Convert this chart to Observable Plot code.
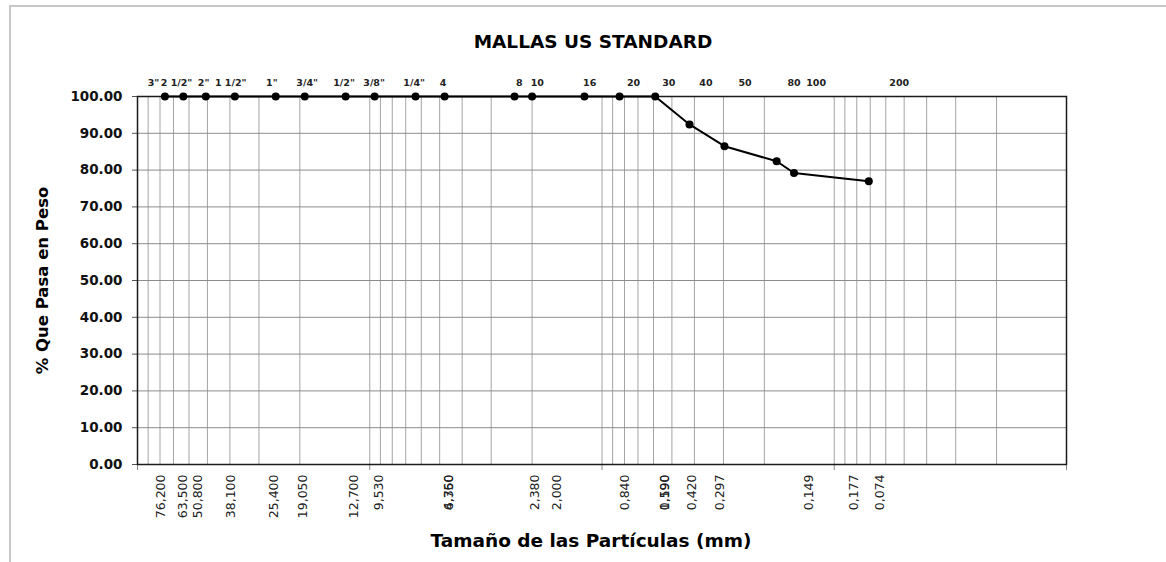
<!DOCTYPE html>
<html>
<head>
<meta charset="utf-8">
<script src="https://cdn.jsdelivr.net/npm/d3@7"></script>
<script src="https://cdn.jsdelivr.net/npm/@observablehq/plot@0.6"></script>
<style>
  html, body { margin: 0; padding: 0; background: #fff; }
  #wrap { position: relative; width: 1166px; height: 562px; overflow: hidden; }
  #border { position: absolute; left: 9px; top: 5px; right: -4px; bottom: -4px;
            border-top: 2px solid #c8c8c8; border-left: 2px solid #c8c8c8; pointer-events: none; }
  #chart { position: absolute; left: 0; top: 0; }
</style>
</head>
<body>
<div id="wrap"><div id="chart"></div><div id="border"></div></div>
<script>
// ---- data ----
const sieveNames = ['3"', '2 1/2"', '2"', '1 1/2"', '1"', '3/4"', '1/2"', '3/8"', '1/4"', '4', '8', '10', '16', '20', '30', '40', '50', '80', '100', '200'];
const sieveSizes = [76.2, 63.5, 50.8, 38.1, 25.4, 19.05, 12.7, 9.53, 6.35, 4.76, 2.38, 2.0, 1.19, 0.84, 0.59, 0.42, 0.297, 0.177, 0.149, 0.071];
const percentPassing = [100, 100, 100, 100, 100, 100, 100, 100, 100, 100, 100, 100, 100, 100, 100, 92.4, 86.5, 82.4, 79.2, 77.0];
// where the sieve names sit along the size axis (mm)
const topLabelAt = [85.3, 67.9, 51.9, 39.7, 26.4, 18.6, 12.9, 9.58, 6.44, 4.83, 2.27, 1.90, 1.13, 0.731, 0.516, 0.357, 0.242, 0.149, 0.1197, 0.0525];
// opening-size labels under the axis and where they sit (mm)
const bottomLabels = ["76,200", "63,500", "50,800", "38,100", "25,400", "19,050", "12,700", "9,530", "6,350", "4,760", "2,380", "2,000", "0,840", "0,590", "1,190", "0,420", "0,297", "0,149", "0,177", "0,074"];
const bottomLabelAt = [79.6, 63.9, 55.1, 39.7, 25.9, 19.4, 11.7, 9.12, 4.55, 4.55, 1.95, 1.56, 0.799, 0.537, 0.537, 0.410, 0.311, 0.128, 0.082, 0.0634];
const yTicks = [0, 10, 20, 30, 40, 50, 60, 70, 80, 90, 100];
const decades = [100, 10, 1, 0.1, 0.01];
const title = "MALLAS US STANDARD";
const xTitle = "Tamaño de las Partículas (mm)";
const yTitle = "% Que Pasa en Peso";

// ---- tables ----
const curve = sieveSizes.map((s, i) => ({size: s, pct: percentPassing[i]}));
const topTbl = sieveNames.map((n, i) => ({name: n, at: topLabelAt[i]}));
const botTbl = bottomLabels.map((t, i) => ({text: t, at: bottomLabelAt[i]}));
const logGrid = d3.scaleLog().domain([0.01, 100]).ticks();

const F = "DejaVu Sans, Verdana, sans-serif";

const chart = Plot.plot({
  width: 1166,
  height: 562,
  marginTop: 96,
  marginRight: 100,
  marginBottom: 98,
  marginLeft: 137,
  style: {fontFamily: F, background: "transparent", color: "#111"},
  x: {type: "log", domain: [100, 0.01], axis: null},
  y: {domain: [0, 100], axis: null},
  marks: [
    Plot.ruleX(logGrid, {stroke: "#a4a4a4", strokeWidth: 1}),
    Plot.ruleY(yTicks.filter(d => d > 0 && d < 100), {stroke: "#8c8c8c", strokeWidth: 1}),
    Plot.axisX({ticks: decades, tickSize: 6, tickFormat: () => "", stroke: "#888", label: null}),
    Plot.axisY({ticks: yTicks, tickSize: 5, tickPadding: 10, tickFormat: d => d.toFixed(2),
                fontSize: 13.5, fontWeight: "bold", stroke: "#555", label: null}),
    Plot.frame({stroke: "#1a1a1a", strokeWidth: 1.5}),
    Plot.line(curve, {x: "size", y: "pct", stroke: "black", strokeWidth: 2}),
    Plot.dot(curve, {x: "size", y: "pct", r: 4, fill: "black", stroke: "none"}),
    Plot.text(topTbl, {x: "at", text: "name", frameAnchor: "top", dy: -14, lineAnchor: "middle",
                       fontSize: 9.5, fontWeight: "bold", fill: "#222"}),
    Plot.text(botTbl, {x: "at", text: "text", frameAnchor: "bottom", dy: 10, rotate: -90,
                       textAnchor: "end", lineAnchor: "middle", fontSize: 12.5, fill: "#222"}),
    Plot.text([title], {frameAnchor: "top", dy: -54, dx: -9, lineAnchor: "middle",
                        fontSize: 18.5, fontWeight: "bold", fill: "#000"}),
    Plot.text([xTitle], {frameAnchor: "bottom", dy: 77, dx: -11, lineAnchor: "middle",
                         fontSize: 18.5, fontWeight: "bold", fill: "#000"}),
    Plot.text([yTitle], {frameAnchor: "left", dx: -95, rotate: -90, textAnchor: "middle",
                         lineAnchor: "middle", fontSize: 16.5, fontWeight: "bold", fill: "#000"})
  ]
});
document.getElementById("chart").appendChild(chart);
</script>
</body>
</html>
